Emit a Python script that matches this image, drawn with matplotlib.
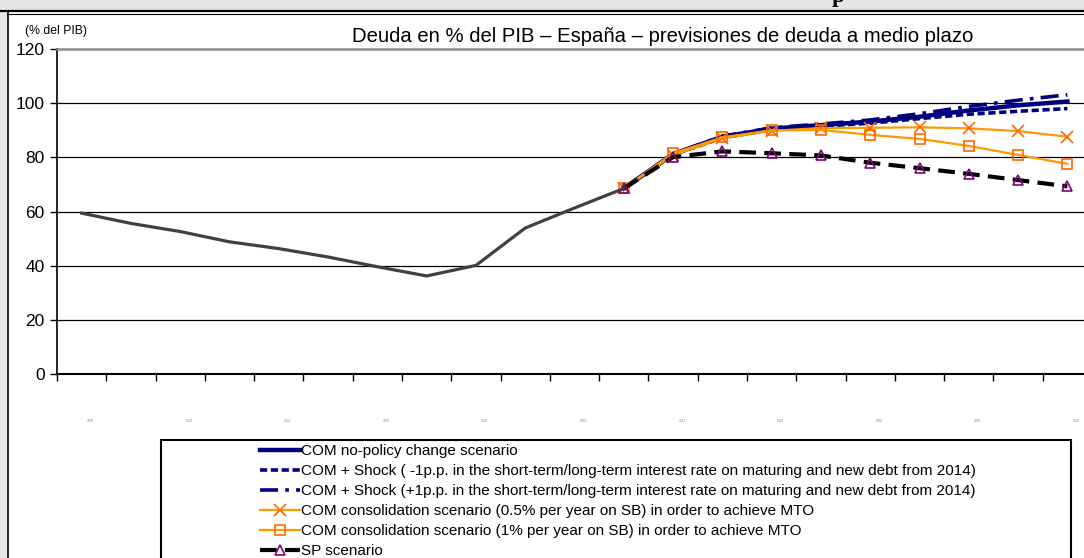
import matplotlib
matplotlib.use('Agg')
import matplotlib.pyplot as plt
from matplotlib.lines import Line2D
from matplotlib.patches import Rectangle

plt.rcParams['font.family'] = ['Liberation Sans', 'DejaVu Sans']

# data (2000-2020)
years = [str(y) for y in range(2000, 2021)]
hist = [59.4, 55.6, 52.6, 48.8, 46.3, 43.2, 39.6, 36.2, 40.1, 53.9, 61.3, 68.5]
com_base = [68.5, 81.2, 87.6, 90.6, 91.9, 93.2, 95.0, 97.3, 99.2, 100.6]
shock_minus = [68.5, 81.0, 87.2, 90.2, 91.5, 92.6, 94.3, 95.9, 97.0, 98.0]
shock_plus = [68.5, 81.3, 87.8, 90.9, 92.3, 93.8, 96.1, 98.8, 101.1, 103.1]
cons05 = [68.5, 80.8, 87.0, 89.8, 90.8, 90.9, 91.1, 90.7, 89.7, 87.6]
cons1 = [68.6, 81.5, 87.4, 90.0, 90.1, 88.3, 86.8, 84.2, 80.9, 77.6]
sp = [68.5, 80.1, 82.2, 81.5, 80.7, 78.0, 76.0, 73.9, 71.6, 69.3]

labels = [
    'COM no-policy change scenario',
    'COM + Shock ( -1p.p. in the short-term/long-term interest rate on maturing and new debt from 2014)',
    'COM + Shock (+1p.p. in the short-term/long-term interest rate on maturing and new debt from 2014)',
    'COM consolidation scenario (0.5% per year on SB) in order to achieve MTO',
    'COM consolidation scenario (1% per year on SB) in order to achieve MTO',
    'SP scenario',
]

W, H = 1084, 558
fig = plt.figure(figsize=(W / 100, H / 100), dpi=100)

# frame around the embedded chart
fig.patches.append(Rectangle((0, 1 - 9 / H), 1, 9 / H, transform=fig.transFigure,
                             color='#e6e6e6', zorder=0))
fig.patches.append(Rectangle((0, 0), 7 / W, 1 - 9 / H, transform=fig.transFigure,
                             color='#e6e6e6', zorder=0))
fig.lines.append(Line2D([0, 1], [1 - 11 / H] * 2, transform=fig.transFigure,
                        color='black', lw=1.6))
fig.lines.append(Line2D([7 / W, 1], [1 - 14 / H] * 2, transform=fig.transFigure,
                        color='black', lw=0.8))
fig.lines.append(Line2D([7.5 / W] * 2, [0, 1 - 11 / H], transform=fig.transFigure,
                        color='black', lw=1.2))
# bottom of a heading that is cut off in the reference
fig.text(838 / W, 1 - 2 / H, 'p', family='Liberation Serif', weight='bold',
         fontsize=17, ha='center', va='baseline')

ax = fig.add_axes([57 / W, 184 / H, 1035 / W, 325 / H])
xi = list(range(len(years)))
xf = xi[len(hist) - 1:]

ax.plot(xi[:len(hist)], hist, color='#404040', lw=2.3, zorder=6)
ax.plot(xf, com_base, color='#000080', lw=3.2, zorder=3, label=labels[0])
ax.plot(xf, shock_minus, color='#000080', lw=2.6, dashes=(2, 1), zorder=3, label=labels[1])
ax.plot(xf, shock_plus, color='#000080', lw=2.6, dashes=(5, 2, 1, 2), zorder=3, label=labels[2])
ax.plot(xf, cons05, color='#FF9900', lw=1.6, marker='x', ms=8, mec='#FF6600', mew=1.2,
        zorder=4, label=labels[3])
ax.plot(xf, cons1, color='#FF9900', lw=1.6, marker='s', ms=7, mfc='none', mec='#FF6600',
        mew=1.2, zorder=4, label=labels[4])
ax.plot(xf, sp, color='black', lw=3, dashes=(4, 2), marker='^', ms=7, mfc='none',
        mec='#800080', mew=1.2, zorder=5, label=labels[5])

ax.set_xlim(-0.5, len(years) - 0.5)
ax.set_ylim(0, 120)
ax.set_yticks(range(0, 121, 20))
ax.set_xticks([i - 0.5 for i in range(len(years) + 1)])
ax.set_xticklabels([])
ax.tick_params(axis='both', direction='out', length=5, width=1, colors='black')
ax.tick_params(axis='y', labelsize=12.5, pad=4)
for v in range(20, 101, 20):
    ax.axhline(v, color='black', lw=0.9, zorder=1)
ax.spines['top'].set_color('#8c8c8c')
ax.spines['top'].set_linewidth(1.8)
ax.spines['right'].set_visible(False)
ax.spines['left'].set_linewidth(1.2)
ax.spines['bottom'].set_linewidth(1.5)

# tiny, unreadable year labels
for i in range(0, len(years), 2):
    ax.text(i + 0.18, -17.3, years[i], fontsize=2.3, color='#808080',
            ha='center', va='center', clip_on=False)

fig.text(25 / W, 1 - 31 / H, '(% del PIB)', fontsize=8.8, va='center')
fig.text(663 / W, 1 - 37 / H,
         'Deuda en % del PIB \u2013 Espa\u00f1a \u2013 previsiones de deuda a medio plazo',
         fontsize=14.6, ha='center', va='center')

# legend box
fig.patches.append(Rectangle((161 / W, -0.05), (1071 - 161) / W, 0.05 + (H - 440) / H,
                             transform=fig.transFigure, fill=False, ec='black', lw=1.5))
handles, labs = ax.get_legend_handles_labels()
fig.legend(handles, labs, loc='upper left', bbox_to_anchor=(260 / W, 1 - 444 / H),
           frameon=False, fontsize=10.95, handlelength=2.6, handletextpad=0.1,
           labelspacing=0.4, borderpad=0, borderaxespad=0, numpoints=1)

fig.savefig('out.png', dpi=100)
